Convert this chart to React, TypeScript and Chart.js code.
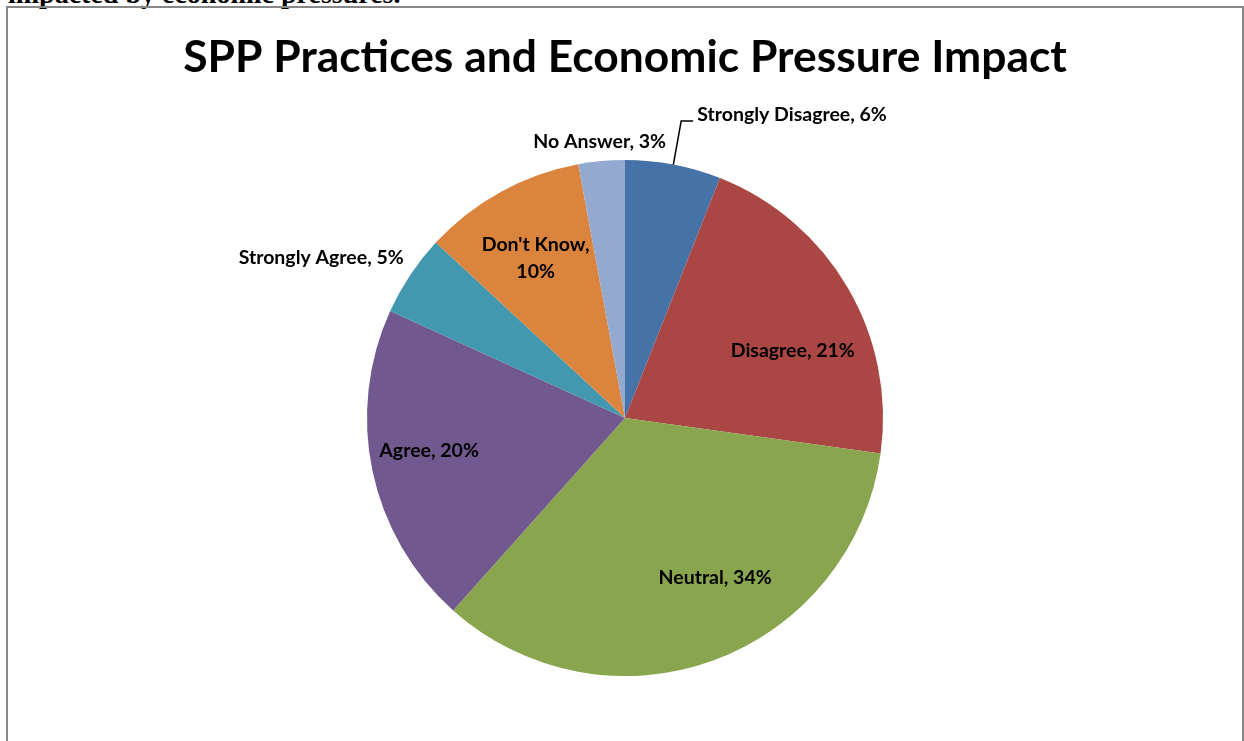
import React, { useEffect, useRef } from "react";
import { Chart, registerables } from "chart.js";

Chart.register(...registerables);

// ---- data ----
const categories = [
  "Strongly Disagree",
  "Disagree",
  "Neutral",
  "Agree",
  "Strongly Agree",
  "Don't Know",
  "No Answer",
];
const shares = [6.0, 21.2, 34.4, 20.2, 5.1, 10.2, 2.9];
const percentLabels = ["6%", "21%", "34%", "20%", "5%", "10%", "3%"];
const chartTitle = "SPP Practices and Economic Pressure Impact";
const headingText = "impacted by economic pressures.";

// ---- styles ----
const sliceColors = ["#4572A7", "#AA4643", "#89A54E", "#71588F", "#4198AF", "#DB843D", "#93A9CF"];

// label placement: radius factor (of outer radius), angle shift (deg) from slice middle
const labelLayout: { r: number; dA: number; align: CanvasTextAlign; leader?: boolean; wrap?: boolean }[] = [
  { r: 1.207, dA: 2.6, align: "left", leader: true },
  { r: 0.7, dA: 8.5, align: "center" },
  { r: 0.71, dA: -9.3, align: "center" },
  { r: 0.77, dA: 2.3, align: "center" },
  { r: 1.058, dA: 2.2, align: "right" },
  { r: 0.71, dA: -0.4, align: "center", wrap: true },
  { r: 1.077, dA: 0, align: "center" },
];

const LABEL_FONT = "bold 19.5px Lato";

const sliceLabelPlugin = {
  id: "sliceLabels",
  afterDatasetsDraw(chart: any) {
    const ctx = chart.ctx as CanvasRenderingContext2D;
    const meta = chart.getDatasetMeta(0);
    meta.data.forEach((arc: any, i: number) => {
      const p = arc.getProps(["x", "y", "startAngle", "endAngle", "outerRadius"], true);
      const mid = (p.startAngle + p.endAngle) / 2;
      const L = labelLayout[i];
      const a = mid + (L.dA * Math.PI) / 180;
      const tx = p.x + Math.cos(a) * p.outerRadius * L.r;
      const ty = p.y + Math.sin(a) * p.outerRadius * L.r;
      ctx.save();
      ctx.font = LABEL_FONT;
      ctx.fillStyle = "#000";
      ctx.textAlign = L.align;
      ctx.textBaseline = "middle";
      if (L.leader) {
        const ex = p.x + Math.cos(mid) * p.outerRadius;
        const ey = p.y + Math.sin(mid) * p.outerRadius;
        ctx.beginPath();
        ctx.moveTo(ex, ey);
        ctx.lineTo(tx - 16, ty + 6);
        ctx.lineTo(tx - 4, ty + 6);
        ctx.strokeStyle = "#000";
        ctx.lineWidth = 1.5;
        ctx.stroke();
      }
      if (L.wrap) {
        ctx.fillText(categories[i] + ",", tx, ty - 13.5);
        ctx.fillText(percentLabels[i], tx, ty + 13.5);
      } else {
        ctx.fillText(`${categories[i]}, ${percentLabels[i]}`, tx, ty);
      }
      ctx.restore();
    });
  },
};

export default function App() {
  const canvasRef = useRef<HTMLCanvasElement | null>(null);

  useEffect(() => {
    if (!canvasRef.current) return;
    const chart = new Chart(canvasRef.current, {
      type: "pie",
      data: {
        labels: categories,
        datasets: [
          {
            data: shares,
            backgroundColor: sliceColors,
            borderWidth: 0,
          },
        ],
      },
      options: {
        responsive: false,
        animation: false,
        layout: { padding: { top: 0, bottom: 65, left: 0, right: 0 } },
        plugins: {
          legend: { display: false },
          tooltip: { enabled: false },
          title: {
            display: true,
            text: chartTitle,
            color: "#000",
            font: { family: "Lato", size: 44.4, weight: "bold", lineHeight: 1.2 },
            padding: { top: 23.5, bottom: 75.2 },
          },
        },
      },
      plugins: [sliceLabelPlugin],
    });
    return () => chart.destroy();
  }, []);

  return (
    <div
      style={{
        position: "absolute",
        left: 0,
        top: 0,
        width: 1244,
        height: 741,
        overflow: "hidden",
        background: "#fff",
      }}
    >
      <div
        style={{
          position: "absolute",
          left: 8,
          top: -20,
          font: 'bold 28px "Liberation Serif"',
          lineHeight: "28px",
          whiteSpace: "nowrap",
          color: "#000",
        }}
      >
        {headingText}
      </div>
      <div
        style={{
          position: "absolute",
          left: 6,
          top: 6,
          width: 1234,
          height: 800,
          border: "2px solid #878787",
        }}
      >
        <canvas ref={canvasRef} width={1234} height={733} style={{ display: "block" }} />
      </div>
    </div>
  );
}
